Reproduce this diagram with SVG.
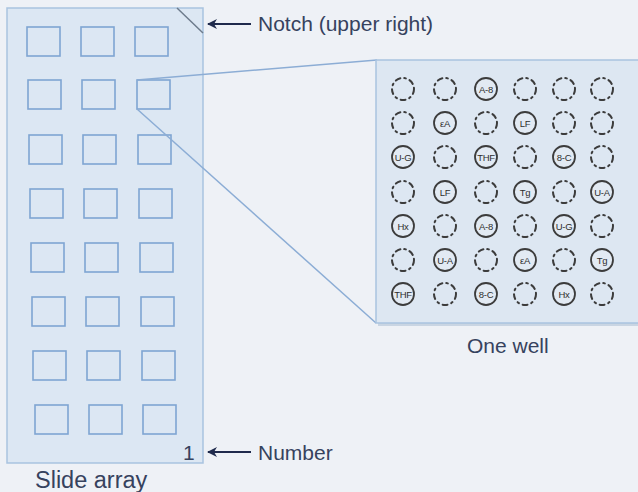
<svg xmlns="http://www.w3.org/2000/svg" width="638" height="492" viewBox="0 0 638 492">
  <style>
    .label { font-family: "Liberation Sans", Arial, sans-serif; fill: #36425e; }
    .slide { fill: #dce7f3; stroke: #a9c3e0; stroke-width: 1.5; }
    .spot { fill: none; stroke: #7fa5d2; stroke-width: 1.6; }
    .panel { fill: #dde7f2; stroke: #a9c3e0; stroke-width: 1.5; }
    .zoomline { stroke: #8cadd5; stroke-width: 1.5; fill: none; }
    .ptr { stroke: #1f2a4c; stroke-width: 2; fill: none; }
    .empty { fill: none; stroke: #3c3c3c; stroke-width: 2; stroke-dasharray: 5 4 1.6 4; stroke-linecap: round; }
    .filled { fill: #e2eaf3; stroke: #3c3c3c; stroke-width: 1.8; }
    .tag { font-family: "Liberation Sans", Arial, sans-serif; font-size: 9.5px; fill: #2e2e2e; text-anchor: middle; letter-spacing: -0.3px; }
  </style>
  <defs>
    <marker id="arrowhead" viewBox="0 0 10 10" refX="9" refY="5" markerWidth="6" markerHeight="5" orient="auto">
      <path d="M10,5 L0,0 L3,5 L0,10 Z" fill="#1f2a4c"/>
    </marker>
    <circle id="blank" r="11" class="empty"/>
  </defs>

  <rect width="638" height="492" fill="#eef1f6"/>

  <!-- slide with its spot grid -->
  <g id="slide">
    <rect class="slide" x="7" y="8" width="196" height="455"/>
    <line x1="177" y1="8" x2="203" y2="33" stroke="#6d7b8c" stroke-width="1.5"/>
    <g id="spots">
      <rect class="spot" x="27" y="27" width="33" height="29"/>
      <rect class="spot" x="81" y="27" width="33" height="29"/>
      <rect class="spot" x="135" y="27" width="33" height="29"/>
      <rect class="spot" x="28" y="80" width="33" height="29"/>
      <rect class="spot" x="82" y="80" width="33" height="29"/>
      <rect class="spot" x="137" y="80" width="33" height="29"/>
      <rect class="spot" x="29" y="135" width="33" height="29"/>
      <rect class="spot" x="83" y="135" width="33" height="29"/>
      <rect class="spot" x="138" y="135" width="33" height="29"/>
      <rect class="spot" x="30" y="189" width="33" height="29"/>
      <rect class="spot" x="84" y="189" width="33" height="29"/>
      <rect class="spot" x="139" y="189" width="33" height="29"/>
      <rect class="spot" x="31" y="243" width="33" height="29"/>
      <rect class="spot" x="85" y="243" width="33" height="29"/>
      <rect class="spot" x="140" y="243" width="33" height="29"/>
      <rect class="spot" x="32" y="297" width="33" height="29"/>
      <rect class="spot" x="86" y="297" width="33" height="29"/>
      <rect class="spot" x="141" y="297" width="33" height="29"/>
      <rect class="spot" x="33" y="351" width="33" height="29"/>
      <rect class="spot" x="87" y="351" width="33" height="29"/>
      <rect class="spot" x="142" y="351" width="33" height="29"/>
      <rect class="spot" x="35" y="405" width="33" height="29"/>
      <rect class="spot" x="89" y="405" width="33" height="29"/>
      <rect class="spot" x="143" y="405" width="33" height="29"/>
    </g>
    <text class="label" x="183" y="460" font-size="21" fill="#4a5672">1</text>
    <text class="label" x="35" y="488" font-size="23.5">Slide array</text>
  </g>

  <!-- zoom lines from one spot to the well view, and the two pointers -->
  <g id="connectors">
    <line class="zoomline" x1="137" y1="80" x2="377" y2="60"/>
    <line class="zoomline" x1="137" y1="109" x2="376" y2="323"/>
    <line class="ptr" x1="251" y1="24" x2="208" y2="24" marker-end="url(#arrowhead)"/>
    <line class="ptr" x1="251" y1="452" x2="208" y2="452" marker-end="url(#arrowhead)"/>
  </g>

  <g id="notch-label">
    <text class="label" x="258" y="31" font-size="21">Notch (upper right)</text>
  </g>
  <g id="number-label">
    <text class="label" x="258" y="460" font-size="21">Number</text>
  </g>

  <!-- enlarged well -->
  <g id="well">
    <rect x="378" y="62" width="264" height="264" fill="#c9d5e3"/>
    <rect class="panel" x="376" y="60" width="266" height="263"/>
    <g id="row1">
      <use href="#blank" x="403" y="89"/>
      <use href="#blank" x="445" y="89"/>
      <circle class="filled" cx="486" cy="89" r="11"/><text class="tag" x="486" y="92.5">A-8</text>
      <use href="#blank" x="525" y="89"/>
      <use href="#blank" x="564" y="89"/>
      <use href="#blank" x="602" y="89"/>
    </g>
    <g id="row2">
      <use href="#blank" x="403" y="123"/>
      <circle class="filled" cx="445" cy="123" r="11"/><text class="tag" x="445" y="126.5">εA</text>
      <use href="#blank" x="486" y="123"/>
      <circle class="filled" cx="525" cy="123" r="11"/><text class="tag" x="525" y="126.5">LF</text>
      <use href="#blank" x="564" y="123"/>
      <use href="#blank" x="602" y="123"/>
    </g>
    <g id="row3">
      <circle class="filled" cx="403" cy="157" r="11"/><text class="tag" x="403" y="160.5">U-G</text>
      <use href="#blank" x="445" y="157"/>
      <circle class="filled" cx="486" cy="157" r="11"/><text class="tag" x="486" y="160.5">THF</text>
      <use href="#blank" x="525" y="157"/>
      <circle class="filled" cx="564" cy="157" r="11"/><text class="tag" x="564" y="160.5">8-C</text>
      <use href="#blank" x="602" y="157"/>
    </g>
    <g id="row4">
      <use href="#blank" x="403" y="192"/>
      <circle class="filled" cx="445" cy="192" r="11"/><text class="tag" x="445" y="195.5">LF</text>
      <use href="#blank" x="486" y="192"/>
      <circle class="filled" cx="525" cy="192" r="11"/><text class="tag" x="525" y="195.5">Tg</text>
      <use href="#blank" x="564" y="192"/>
      <circle class="filled" cx="602" cy="192" r="11"/><text class="tag" x="602" y="195.5">U-A</text>
    </g>
    <g id="row5">
      <circle class="filled" cx="403" cy="226" r="11"/><text class="tag" x="403" y="229.5">Hx</text>
      <use href="#blank" x="445" y="226"/>
      <circle class="filled" cx="486" cy="226" r="11"/><text class="tag" x="486" y="229.5">A-8</text>
      <use href="#blank" x="525" y="226"/>
      <circle class="filled" cx="564" cy="226" r="11"/><text class="tag" x="564" y="229.5">U-G</text>
      <use href="#blank" x="602" y="226"/>
    </g>
    <g id="row6">
      <use href="#blank" x="403" y="260"/>
      <circle class="filled" cx="445" cy="260" r="11"/><text class="tag" x="445" y="263.5">U-A</text>
      <use href="#blank" x="486" y="260"/>
      <circle class="filled" cx="525" cy="260" r="11"/><text class="tag" x="525" y="263.5">εA</text>
      <use href="#blank" x="564" y="260"/>
      <circle class="filled" cx="602" cy="260" r="11"/><text class="tag" x="602" y="263.5">Tg</text>
    </g>
    <g id="row7">
      <circle class="filled" cx="403" cy="294" r="11"/><text class="tag" x="403" y="297.5">THF</text>
      <use href="#blank" x="445" y="294"/>
      <circle class="filled" cx="486" cy="294" r="11"/><text class="tag" x="486" y="297.5">8-C</text>
      <use href="#blank" x="525" y="294"/>
      <circle class="filled" cx="564" cy="294" r="11"/><text class="tag" x="564" y="297.5">Hx</text>
      <use href="#blank" x="602" y="294"/>
    </g>
    <text class="label" x="467" y="353" font-size="21">One well</text>
  </g>
</svg>
